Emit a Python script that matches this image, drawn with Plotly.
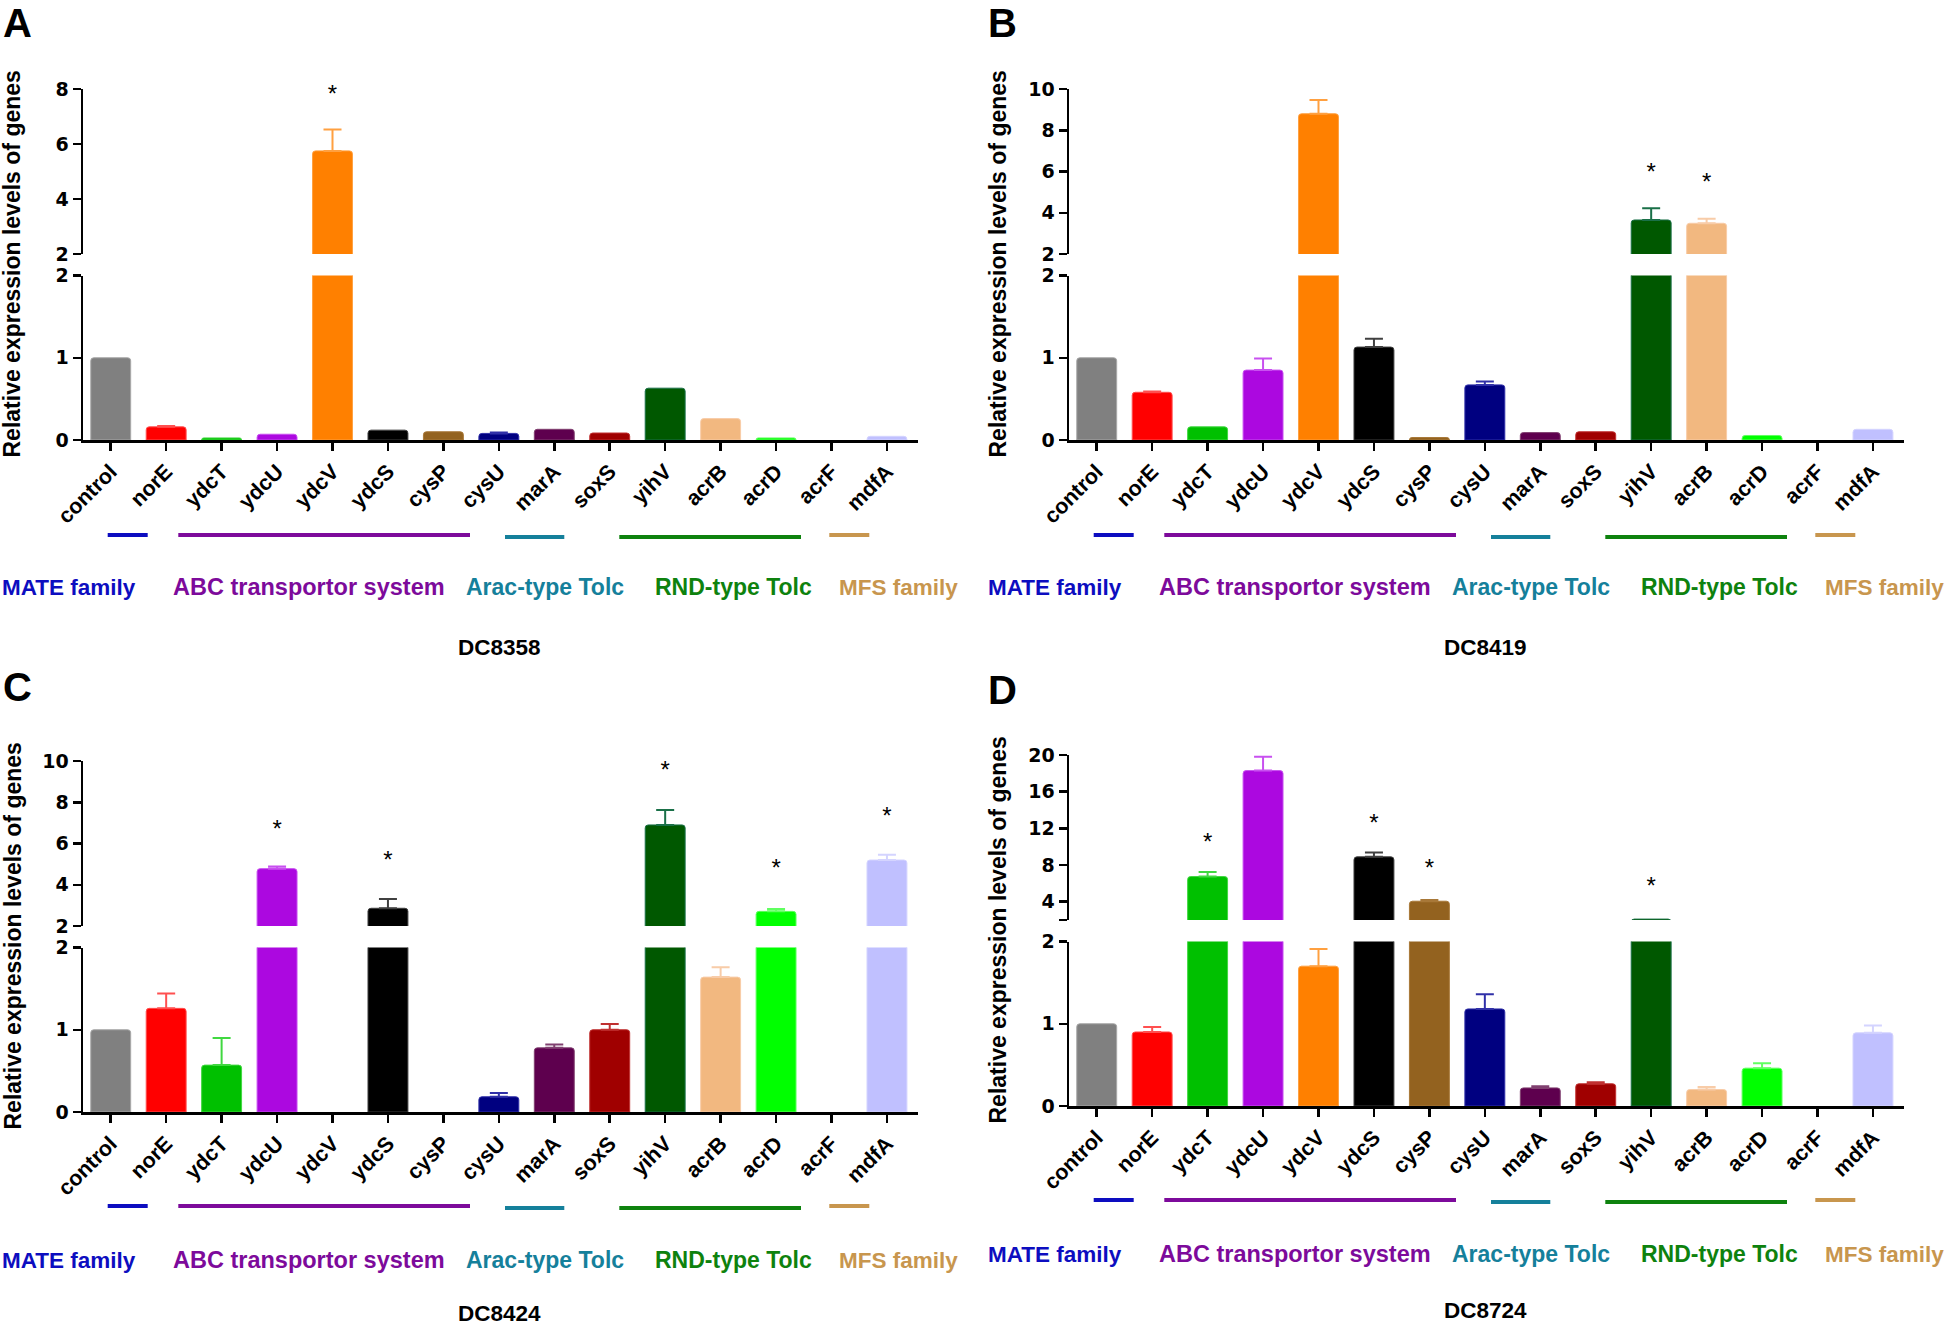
import plotly.graph_objects as go

W, H = 1946, 1326
FONT = "Liberation Sans, Arial, sans-serif"
DIGIT_FONT = "DejaVu Sans, Liberation Sans, sans-serif"

genes = ["control", "norE", "ydcT", "ydcU", "ydcV", "ydcS", "cysP", "cysU",
         "marA", "soxS", "yihV", "acrB", "acrD", "acrF", "mdfA"]
fill_colors = ["#808080", "#FF0000", "#00C000", "#AC08E0", "#FF8000", "#000000",
               "#93621F", "#000080", "#5E004E", "#A00000", "#005800", "#F2B880",
               "#00FF00", "#808000", "#C0C0FF"]
edge_colors = ["#A8A8A8", "#FF5050", "#40D840", "#C850F0", "#FFA040", "#404040",
               "#A87838", "#3030A8", "#804070", "#C03030", "#1A7048", "#F8CCA8",
               "#60FF60", "#A0A040", "#D4D4FF"]

strains = ["DC8358", "DC8419", "DC8424", "DC8724"]
letters = ["A", "B", "C", "D"]

vals_A = [1.00, 0.16, 0.025, 0.07, 5.75, 0.12, 0.10, 0.08, 0.13, 0.085, 0.63, 0.26, 0.025, 0.0, 0.045]
err_A = [0.0, 0.01, 0.0, 0.0, 0.78, 0.0, 0.0, 0.01, 0.0, 0.0, 0.0, 0.0, 0.0, 0.0, 0.0]
vals_B = [1.00, 0.58, 0.16, 0.85, 8.80, 1.13, 0.03, 0.67, 0.09, 0.10, 3.65, 3.49, 0.055, 0.0, 0.13]
err_B = [0.0, 0.01, 0.0, 0.14, 0.67, 0.10, 0.0, 0.04, 0.0, 0.0, 0.57, 0.22, 0.0, 0.0, 0.0]
vals_C = [1.00, 1.26, 0.57, 4.78, 0.0, 2.86, 0.0, 0.185, 0.78, 1.00, 6.90, 1.64, 2.71, 0.0, 5.20]
err_C = [0.0, 0.18, 0.33, 0.10, 0.0, 0.45, 0.0, 0.045, 0.04, 0.07, 0.73, 0.12, 0.11, 0.0, 0.25]
vals_D = [1.00, 0.90, 6.74, 18.3, 1.70, 8.89, 4.05, 1.18, 0.22, 0.27, 2.10, 0.20, 0.46, 0.0, 0.89]
err_D = [0.0, 0.06, 0.50, 1.50, 0.21, 0.46, 0.13, 0.18, 0.02, 0.02, 0.0, 0.03, 0.06, 0.0, 0.09]

values = [vals_A, vals_B, vals_C, vals_D]
errors = [err_A, err_B, err_C, err_D]

# significance marks: gene -> y value of the asterisk
stars_A = {"ydcV": 7.74}
stars_B = {"ydcV": 11.04, "yihV": 5.9, "acrB": 5.4}
stars_C = {"ydcU": 6.59, "ydcS": 5.12, "yihV": 9.49, "acrD": 4.71, "mdfA": 7.22}
stars_D = {"ydcT": 10.3, "ydcU": 23.1, "ydcS": 12.4, "cysP": 7.43, "yihV": 5.5}
stars = [stars_A, stars_B, stars_C, stars_D]

# axis segments
break_at = 2
upper_top = [8, 10, 10, 20]
upper_ticks = [[2, 4, 6, 8], [2, 4, 6, 8, 10], [2, 4, 6, 8, 10], [2, 4, 8, 12, 16, 20]]
upper_ticktext = [["2", "4", "6", "8"], ["2", "4", "6", "8", "10"], ["2", "4", "6", "8", "10"],
                  ["", "4", "8", "12", "16", "20"]]
lower_ticks = [0, 1, 2]

groups = ["MATE family", "ABC transportor system", "Arac-type Tolc", "RND-type Tolc", "MFS family"]
group_colors = ["#0D0DC0", "#7D0A9B", "#15809B", "#0E820E", "#C8964E"]

# ---------------- geometry (pixels, panel A reference) ----------------
offsets = [(0, 0), (986, 0), (0, 672), (986, 666)]
AX_X0, AX_X1 = 83, 918
UP_TOP, UP_BOT, LO_TOP, LO_BOT = 89, 254, 275.5, 440
grp_line_x = [(107.7, 147.7), (178.3, 470), (505, 564.3), (619.3, 801), (829.3, 869.3)]
grp_line_dy = [0, 0, 2, 2, 0]
grp_label_x = [69.3, 309, 544.5, 733.3, 898.3]
grp_label_size = [22.5, 23.5, 23, 23, 22.5]
line_y = [535, 535, 1206, 1200]
label_y = [587, 587, 1260, 1254]
title_y = [647, 647, 1313, 1310]
letter_pos = [(17, 0), (1002, 0), (17, 664), (1002, 667)]


def px(x):
    return x / W


def py(y):
    return 1 - y / H


fig = go.Figure()
layout = dict(template="none", width=W, height=H, margin=dict(l=0, r=0, t=0, b=0, pad=0),
              autosize=False,
              paper_bgcolor="white", plot_bgcolor="rgba(0,0,0,0)",
              showlegend=False, barmode="overlay", font=dict(family=FONT, color="black"))
annotations = []
shapes = []

for p in range(4):
    dx, dy = offsets[p]
    xi = p + 1
    ylo = 2 * p + 1
    yup = 2 * p + 2
    xname = "x" if xi == 1 else f"x{xi}"
    ylo_name = "y" if ylo == 1 else f"y{ylo}"
    yup_name = f"y{yup}"
    vals = values[p]
    errs = errors[p]

    for i, g in enumerate(genes):
        v = vals[i]
        e = errs[i]
        lo_err = e if (e > 0 and v < break_at) else None
        up_err = e if (e > 0 and v >= break_at) else None
        edge_w = 1 if v > 0 else 0
        for yname, err in ((ylo_name, lo_err), (yup_name, up_err)):
            fig.add_trace(go.Bar(
                x=[g], y=[v], xaxis=xname, yaxis=yname, width=0.72,
                marker=dict(color=fill_colors[i], line=dict(color=edge_colors[i], width=edge_w),
                            cornerradius=3),
                error_y=dict(type="data", symmetric=False,
                             array=[err], arrayminus=[0],
                             visible=err is not None, color=edge_colors[i],
                             thickness=2, width=9),
                hoverinfo="skip",
            ))

    # asterisks (text marks, not clipped to the axis range)
    sg = list(stars[p].keys())
    sy = list(stars[p].values())
    fig.add_trace(go.Scatter(x=sg, y=sy, xaxis=xname, yaxis=yup_name, mode="text",
                             text=["*"] * len(sg), textposition="middle center",
                             cliponaxis=False, hoverinfo="skip",
                             textfont=dict(family=FONT, size=24, color="black")))

    axis_common = dict(showline=True, linewidth=2.5, linecolor="black", ticks="outside",
                       ticklen=8, tickwidth=2.5, tickcolor="black", showgrid=False,
                       zeroline=False, fixedrange=True, automargin=False)
    layout[f"xaxis{'' if xi == 1 else xi}"] = dict(
        axis_common, domain=[px(AX_X0 + dx), px(AX_X1 + dx)], anchor=ylo_name,
        type="category", categoryorder="array", categoryarray=genes,
        range=[-0.5, 14.56], tickangle=-45,
        tickfont=dict(family=FONT, size=21.5, color="black", weight="bold"))
    layout[f"yaxis{'' if ylo == 1 else ylo}"] = dict(
        axis_common, domain=[py(LO_BOT + dy), py(LO_TOP + dy)], anchor=xname,
        range=[0, break_at], tickvals=lower_ticks, ticktext=[str(t) for t in lower_ticks],
        tickfont=dict(family=DIGIT_FONT, size=19, color="black", weight="bold"))
    layout[f"yaxis{yup}"] = dict(
        axis_common, domain=[py(UP_BOT + dy), py(UP_TOP + dy)], anchor=xname,
        range=[break_at, upper_top[p]], tickvals=upper_ticks[p], ticktext=upper_ticktext[p],
        tickfont=dict(family=DIGIT_FONT, size=19, color="black", weight="bold"))

    # y title
    annotations.append(dict(x=px(12 + dx), y=py((UP_TOP + LO_BOT) / 2 + dy), xref="paper",
                            yref="paper", text="<b>Relative expression levels of genes</b>",
                            textangle=-90, showarrow=False, xanchor="center", yanchor="middle",
                            font=dict(family=FONT, size=23, color="black")))
    # panel letter
    lx, ly = letter_pos[p]
    annotations.append(dict(x=px(lx), y=py(ly), xref="paper", yref="paper",
                            text=f"<b>{letters[p]}</b>", showarrow=False,
                            xanchor="center", yanchor="top", borderpad=0,
                            font=dict(family=FONT, size=40, color="black")))
    # strain title
    annotations.append(dict(x=px(499 + dx), y=py(title_y[p]), xref="paper", yref="paper",
                            text=f"<b>{strains[p]}</b>", showarrow=False,
                            xanchor="center", yanchor="middle",
                            font=dict(family=FONT, size=22.5, color="black")))
    # group lines and labels
    for k, gname in enumerate(groups):
        x0, x1 = grp_line_x[k]
        yl = line_y[p] + grp_line_dy[k]
        shapes.append(dict(type="line", xref="paper", yref="paper",
                           x0=px(x0 + dx), x1=px(x1 + dx), y0=py(yl), y1=py(yl),
                           line=dict(color=group_colors[k], width=4)))
        annotations.append(dict(x=px(grp_label_x[k] + dx), y=py(label_y[p]), xref="paper",
                                yref="paper", text=f"<b>{gname}</b>", showarrow=False,
                                xanchor="center", yanchor="middle",
                                font=dict(family=FONT, size=grp_label_size[k],
                                          color=group_colors[k])))

layout["annotations"] = annotations
layout["shapes"] = shapes
fig.update_layout(**layout)
fig.write_html("out.html", config={"displayModeBar": False, "staticPlot": True},
               post_script="document.body.style.margin='0';document.body.style.overflow='hidden';")
